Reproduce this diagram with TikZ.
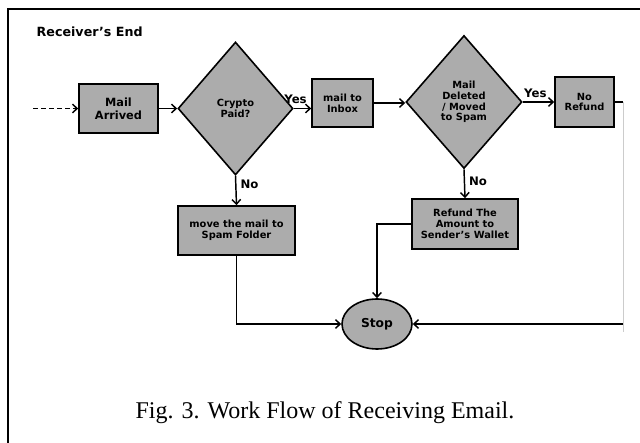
\documentclass[tikz,border=0pt]{standalone}
\usepackage{fontspec}
\setmainfont{Liberation Serif}
\setsansfont{DejaVu Sans}
\usetikzlibrary{shapes.geometric,arrows.meta}
\definecolor{boxgray}{RGB}{172,172,172}
\begin{document}
\begin{tikzpicture}[x=0.75pt,y=-0.75pt,
    box/.style={draw,line width=1.2pt,fill=boxgray,inner sep=0pt,align=center,
        font=\sffamily\bfseries\fontsize{7.4}{8.1}\selectfont},
    decision/.style={box,diamond},
    lbl/.style={font=\sffamily\bfseries\fontsize{8.8}{10}\selectfont,inner sep=3pt},
    flow/.style={line width=1.1pt,-{Straight Barb[length=3.5pt,width=6.5pt]}}]
        \useasboundingbox (0,0) rectangle (640,443);
        \draw[line width=2pt] (8,443) to (8,9) to (640,9);

        \node[anchor=west,font=\sffamily\bfseries\fontsize{9.5}{11}\selectfont] (title) at (32,32){Receiver’s End};

        \node[box,minimum width=59.25pt,minimum height=36.75pt,
            font=\sffamily\bfseries\fontsize{8.5}{9.75}\selectfont] (arrived) at (118.5,108.5){Mail\\Arrived};
        \node[decision,minimum width=86.25pt,minimum height=99.75pt] (crypto) at (235.5,108.5){Crypto\\Paid?};
        \node[box,minimum width=45.75pt,minimum height=36pt] (inbox) at (342.5,103){mail to\\Inbox};
        \node[decision,minimum width=87pt,minimum height=99.75pt] (deleted) at (464,102){Mail\\Deleted\\/ Moved\\to Spam};
        \node[box,minimum width=44.25pt,minimum height=37.5pt] (norefund) at (584.5,102){No\\Refund};
        \node[box,minimum width=87.75pt,minimum height=36.75pt] (spam) at (236.5,230.5){move the mail to\\Spam Folder};
        \node[box,minimum width=79.5pt,minimum height=37.5pt] (refund) at (465,224){Refund The\\Amount to\\Sender’s Wallet};
        \node[box,ellipse,minimum width=52.5pt,minimum height=37.5pt,
            font=\sffamily\bfseries\fontsize{9.2}{10}\selectfont] (stop) at (377,324){Stop};

        \coordinate (in) at (33,108.5);
        \coordinate (rt) at (623,102);
        \coordinate (rb) at (rt |- stop.east);

        \draw[flow,dash pattern=on 4pt off 2pt] (in) to (arrived.west);
        \draw[flow] (arrived.east) to (crypto.west);
        \draw[flow] (crypto.east) to node[lbl,above,pos=0.1]{Yes} (crypto.east -| inbox.west);
        \draw[flow] (inbox.east) to (inbox.east -| deleted.west);
        \draw[flow] (deleted.east) to node[lbl,above,pos=0.4]{Yes} (norefund.west);
        \draw[flow] (crypto.south) to node[lbl,right,pos=0.3]{No} (spam.north);
        \draw[flow] (deleted.south) to node[lbl,right,pos=0.4]{No} (refund.north);
        \draw[flow] (spam.south) |- (stop.west);
        \draw[flow] (refund.west) -| (stop.north);
        \draw[line width=1.1pt] (norefund.east) to (rt);
        \draw[black!20,line width=0.6pt] (rt) to ([yshift=-6]rb);
        \draw[flow] (rb) to (stop.east);

        \node[font=\fontsize{18}{20}\selectfont] (caption) at (325,413){Fig. 3. Work Flow of Receiving Email.};
    \end{tikzpicture}
\end{document}
